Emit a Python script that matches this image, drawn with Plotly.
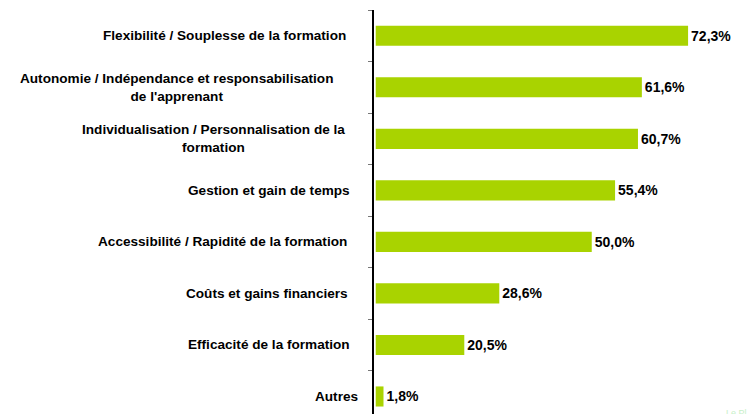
import plotly.graph_objs as go

categories = [
    "Flexibilité / Souplesse de la formation",
    "Autonomie / Indépendance et responsabilisation<br>de l'apprenant",
    "Individualisation / Personnalisation de la<br>formation",
    "Gestion et gain de temps",
    "Accessibilité / Rapidité de la formation",
    "Coûts et gains financiers",
    "Efficacité de la formation",
    "Autres",
]
values = [72.3, 61.6, 60.7, 55.4, 50.0, 28.6, 20.5, 1.8]
labels = ["<b>" + ("%.1f%%" % v).replace(".", ",") + "</b>" for v in values]
# small horizontal offsets of each label, as in the original layout
label_shift = [-26, -39, -27, -22, -25, -24, -22, -14]

fig = go.Figure()
fig.add_trace(
    go.Bar(
        x=values,
        y=list(range(len(values))),
        orientation="h",
        width=0.39,
        marker=dict(color="#A9D300", line=dict(width=0)),
        text=labels,
        textposition="outside",
        cliponaxis=False,
        textfont=dict(family="Liberation Sans, Arial", size=14, color="black"),
    )
)

# category labels as annotations so multi-line text is centred
for i, c in enumerate(categories):
    fig.add_annotation(
        x=0, xref="paper", y=i, yref="y",
        text="<b>" + c + "</b>",
        showarrow=False, xanchor="right", align="center",
        xshift=label_shift[i],
        font=dict(family="Liberation Sans, Arial", size=13.6, color="black"),
    )

fig.add_annotation(
    x=1, xref="paper", y=0, yref="paper", text="Le Pl",
    showarrow=False, xanchor="right", yanchor="bottom", yshift=-6,
    font=dict(family="Liberation Sans, Arial", size=9, color="#c8f0c8"),
)

fig.update_layout(
    width=749,
    height=414,
    margin=dict(l=374, r=0, t=10, b=0, autoexpand=False),
    plot_bgcolor="white",
    paper_bgcolor="white",
    showlegend=False,
)
fig.update_xaxes(range=[-0.4, 86.4], visible=False)
fig.update_yaxes(
    range=[7.34, -0.5],
    tickmode="array",
    tickvals=[i - 0.5 for i in range(9)],
    showticklabels=False,
    ticks="outside",
    ticklen=4,
    tickcolor="#777777",
    showline=True,
    linecolor="black",
    linewidth=1.5,
    showgrid=False,
    zeroline=False,
)

fig.write_html(
    "out.html",
    config={"displayModeBar": False},
    post_script="document.body.style.margin='0';",
)
